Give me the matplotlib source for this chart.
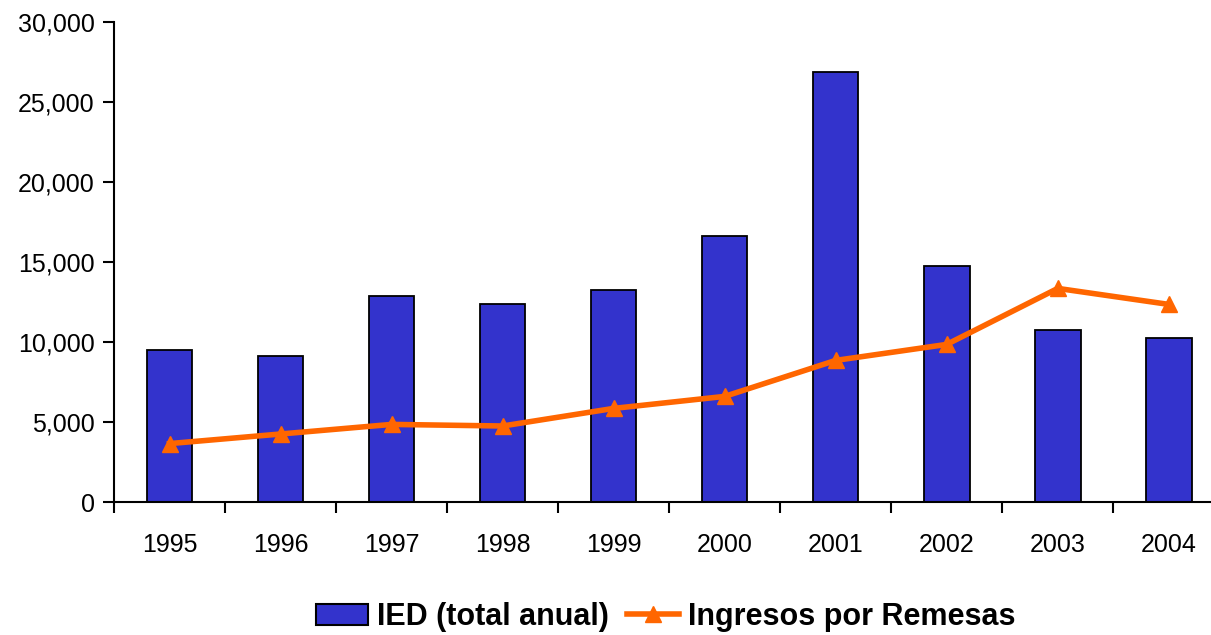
import numpy as np
import matplotlib
matplotlib.use('Agg')
import matplotlib.pyplot as plt
from matplotlib.lines import Line2D
from matplotlib.patches import Patch
from matplotlib.ticker import FuncFormatter, FixedLocator

years = ['1995', '1996', '1997', '1998', '1999', '2000', '2001', '2002', '2003', '2004']
ied = [9500, 9100, 12850, 12350, 13250, 16600, 26850, 14750, 10750, 10250]
remesas = [3650, 4250, 4850, 4750, 5850, 6600, 8850, 9850, 13350, 12350]

plt.rcParams['font.family'] = ['Liberation Sans', 'DejaVu Sans']

fig = plt.figure(figsize=(12.11, 6.35), dpi=100)
ax = fig.add_axes([114 / 1211, 1 - 502 / 635, 1 - 114 / 1211, (502 - 22) / 635])

x = np.arange(len(years))
ax.bar(x, ied, width=0.41, color='#3333CC', edgecolor='black', linewidth=1.3, zorder=2)
ax.plot(x, remesas, color='#FF6600', linewidth=4, marker='^', markersize=11, zorder=3)

ax.set_ylim(0, 30000)
ax.set_xlim(-0.5, 9.38)
ax.set_yticks(range(0, 30001, 5000))
ax.yaxis.set_major_formatter(FuncFormatter(lambda v, p: f'{int(v):,}'))
ax.set_xticks(x)
ax.set_xticklabels(years)
ax.xaxis.set_minor_locator(FixedLocator(np.arange(-0.5, 10, 1)))
ax.tick_params(axis='x', which='major', length=0, pad=22, labelsize=18)
ax.tick_params(axis='x', which='minor', length=8, width=1.5, direction='out')
ax.tick_params(axis='y', length=8, width=1.5, labelsize=18, pad=6)

for s in ['top', 'right']:
    ax.spines[s].set_visible(False)
for s in ['left', 'bottom']:
    ax.spines[s].set_linewidth(1.5)

handles = [Patch(facecolor='#3333CC', edgecolor='black', linewidth=1.5),
           Line2D([], [], color='#FF6600', linewidth=4, marker='^', markersize=11)]
fig.legend(handles, ['IED (total anual)', 'Ingresos por Remesas'],
           loc='center', bbox_to_anchor=(666 / 1211, 1 - 617 / 635), ncol=2, frameon=False,
           prop={'family': ['Liberation Sans Narrow', 'Liberation Sans'], 'weight': 'bold', 'size': 22},
           handlelength=1.7, handletextpad=0.3, columnspacing=0.6)

fig.savefig('out.png', dpi=100)
